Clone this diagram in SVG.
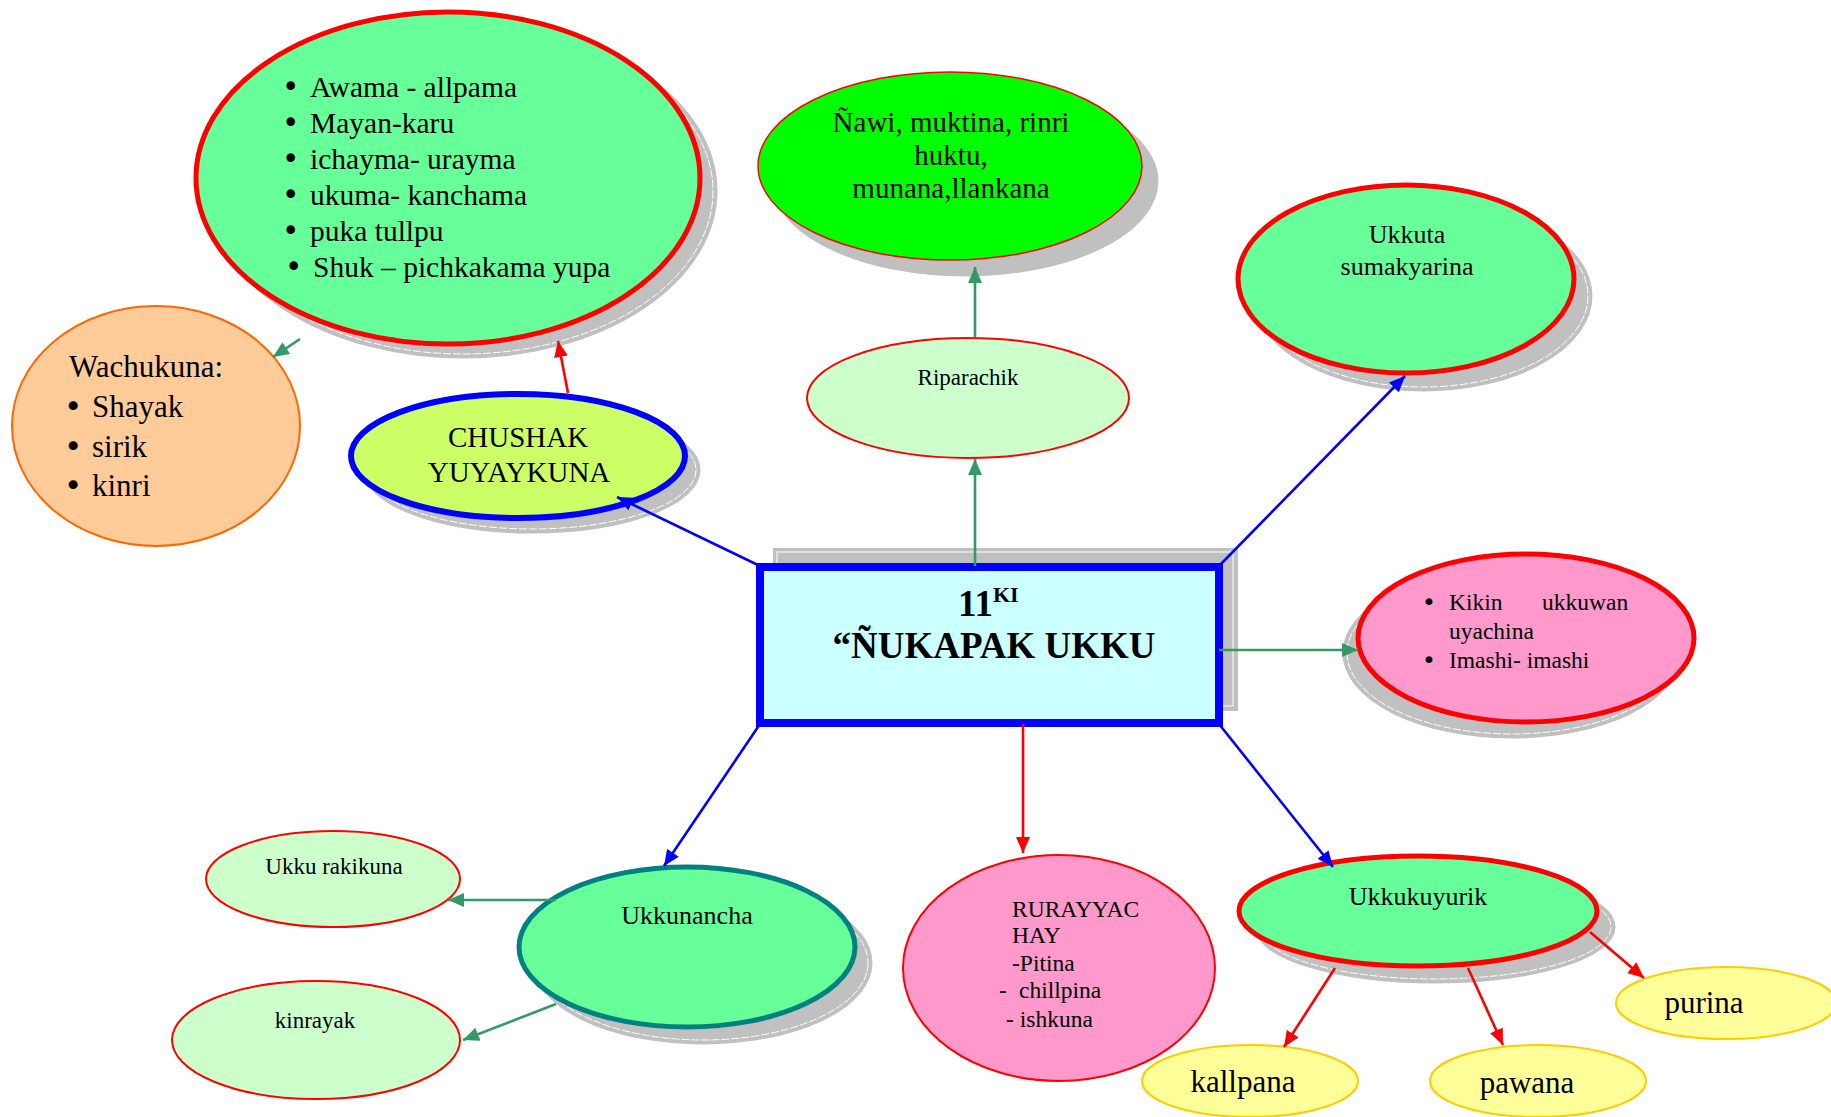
<svg xmlns="http://www.w3.org/2000/svg" width="1831" height="1117" viewBox="0 0 1831 1117">
<defs>
<style>
text{font-family:"Liberation Serif","Times New Roman",serif;fill:#000}
.sh{fill:#c0c0c0;stroke:#c0c0c0;stroke-width:3}
.shl{fill:none;stroke:#fff;stroke-width:1;stroke-dasharray:8 2}
.c{stroke-width:2.6;fill:none}
.g{stroke:#339966}
.r{stroke:#ff0000}
.b{stroke:#0000ff}
text.bl{font-family:"DejaVu Sans",sans-serif}
</style>
<marker id="ag" markerUnits="userSpaceOnUse" markerWidth="16" markerHeight="14" refX="16" refY="7" orient="auto"><path d="M0,0 L16,7 L0,14 z" fill="#339966"/></marker>
<marker id="ar" markerUnits="userSpaceOnUse" markerWidth="16" markerHeight="14" refX="16" refY="7" orient="auto"><path d="M0,0 L16,7 L0,14 z" fill="#ff0000"/></marker>
<marker id="ab" markerUnits="userSpaceOnUse" markerWidth="16" markerHeight="14" refX="16" refY="7" orient="auto"><path d="M0,0 L16,7 L0,14 z" fill="#0000ff"/></marker>
</defs>
<rect width="1831" height="1117" fill="#fff"/>

<g id="node-awama">
<ellipse class="sh" cx="463" cy="191" rx="253" ry="166"/>
<ellipse class="shl" cx="463" cy="191" rx="250" ry="163"/>
<ellipse cx="448" cy="178" rx="252" ry="166" fill="#66ff99" stroke="#ff0000" stroke-width="5"/>
<g font-size="29.5">
<text x="282" y="97" class="bl">•</text><text x="310" y="97">Awama - allpama</text>
<text x="282" y="133" class="bl">•</text><text x="310" y="133">Mayan-karu</text>
<text x="282" y="169" class="bl">•</text><text x="310" y="169">ichayma- urayma</text>
<text x="282" y="205" class="bl">•</text><text x="310" y="205">ukuma- kanchama</text>
<text x="282" y="241" class="bl">•</text><text x="310" y="241">puka tullpu</text>
<text x="285" y="277" class="bl">•</text><text x="313" y="277">Shuk – pichkakama yupa</text>
</g>
</g>

<g id="node-nawi">
<ellipse class="sh" cx="965" cy="181" rx="192" ry="94"/>
<ellipse cx="950" cy="166" rx="192" ry="94" fill="#00ff00" stroke="#ff0000" stroke-width="1.5"/>
<g font-size="29">
<text x="951" y="132" text-anchor="middle">Ñawi, muktina, rinri</text>
<text x="951" y="165" text-anchor="middle">huktu,</text>
<text x="951" y="198" text-anchor="middle">munana,llankana</text>
</g>
</g>

<g id="node-riparachik">
<ellipse cx="968" cy="398" rx="161" ry="60" fill="#ccffcc" stroke="#ff0000" stroke-width="2"/>
<text x="968" y="385" font-size="23" text-anchor="middle">Riparachik</text>
</g>

<g id="node-ukkuta">
<ellipse class="sh" cx="1423" cy="296" rx="168" ry="94"/>
<ellipse class="shl" cx="1423" cy="296" rx="165" ry="91"/>
<ellipse cx="1406" cy="279" rx="168" ry="94" fill="#66ff99" stroke="#ff0000" stroke-width="5"/>
<text x="1407" y="243" font-size="26" text-anchor="middle">Ukkuta</text>
<text x="1407" y="275" font-size="26" text-anchor="middle">sumakyarina</text>
</g>

<g id="node-wachukuna">
<ellipse cx="156" cy="426" rx="144" ry="120" fill="#ffcc99" stroke="#ff6600" stroke-width="2"/>
<g font-size="31">
<text x="69" y="377">Wachukuna:</text>
<text x="64" y="417" class="bl">•</text><text x="92" y="417">Shayak</text>
<text x="64" y="457" class="bl">•</text><text x="92" y="457">sirik</text>
<text x="64" y="496" class="bl">•</text><text x="92" y="496">kinri</text>
</g>
</g>

<g id="node-chushak">
<ellipse class="sh" cx="532" cy="470" rx="167" ry="62"/>
<ellipse class="shl" cx="532" cy="470" rx="164" ry="59"/>
<ellipse cx="518" cy="456" rx="167" ry="62" fill="#ccff66" stroke="#0000ff" stroke-width="6"/>
<text x="518" y="447" font-size="29" text-anchor="middle">CHUSHAK</text>
<text x="519" y="482" font-size="29" text-anchor="middle">YUYAYKUNA</text>
</g>

<g id="node-center">
<rect x="773" y="548" width="465" height="163" fill="#c0c0c0"/>
<rect x="777" y="552" width="456" height="154" fill="none" stroke="#fff" stroke-width="1"/>
<rect x="760" y="567" width="459" height="156" fill="#ccffff" stroke="#0000ff" stroke-width="8"/>
<text x="958" y="616" font-size="37" font-weight="bold">11<tspan font-size="22" dy="-14">KI</tspan></text>
<text x="994" y="658" font-size="37" font-weight="bold" text-anchor="middle">“ÑUKAPAK UKKU</text>
</g>

<g id="node-kikin">
<ellipse class="sh" cx="1512" cy="653" rx="168" ry="84"/>
<ellipse class="shl" cx="1512" cy="653" rx="165" ry="81"/>
<ellipse cx="1526" cy="638" rx="168" ry="84" fill="#ff99cc" stroke="#ff0000" stroke-width="5"/>
<g font-size="23.5">
<text x="1422" y="610" class="bl">•</text>
<text y="610"><tspan x="1449">Kikin</tspan><tspan x="1542">ukkuwan</tspan></text>
<text x="1449" y="639">uyachina</text>
<text x="1422" y="668" class="bl">•</text><text x="1449" y="668">Imashi- imashi</text>
</g>
</g>

<g id="node-ukkunancha">
<ellipse class="sh" cx="703" cy="963" rx="168" ry="80"/>
<ellipse class="shl" cx="703" cy="963" rx="165" ry="77"/>
<ellipse cx="687" cy="947" rx="168" ry="80" fill="#66ff99" stroke="#008080" stroke-width="5"/>
<text x="687" y="924" font-size="26" text-anchor="middle">Ukkunancha</text>
</g>

<g id="node-ukkurakikuna">
<ellipse cx="333" cy="879" rx="127" ry="48" fill="#ccffcc" stroke="#ff0000" stroke-width="2"/>
<text x="334" y="874" font-size="23" text-anchor="middle">Ukku rakikuna</text>
</g>

<g id="node-kinrayak">
<ellipse cx="316" cy="1040" rx="144" ry="59" fill="#ccffcc" stroke="#ff0000" stroke-width="2"/>
<text x="315" y="1028" font-size="23" text-anchor="middle">kinrayak</text>
</g>

<g id="node-rurayyachay">
<ellipse cx="1059" cy="968" rx="156" ry="113" fill="#ff99cc" stroke="#ff0000" stroke-width="2"/>
<g font-size="23.5">
<text x="1012" y="917">RURAYYAC</text>
<text x="1012" y="943">HAY</text>
<text x="1012" y="971">-Pitina</text>
<text y="998"><tspan x="999">-</tspan><tspan x="1019">chillpina</tspan></text>
<text x="1006" y="1027">- ishkuna</text>
</g>
</g>

<g id="node-ukkukuyurik">
<ellipse class="sh" cx="1435" cy="927" rx="179" ry="55"/>
<ellipse class="shl" cx="1435" cy="927" rx="176" ry="52"/>
<ellipse cx="1418" cy="911" rx="179" ry="55" fill="#66ff99" stroke="#ff0000" stroke-width="5"/>
<text x="1418" y="905" font-size="26" text-anchor="middle">Ukkukuyurik</text>
</g>

<g id="node-kallpana">
<ellipse cx="1250" cy="1081" rx="108" ry="36" fill="#ffff99" stroke="#ffcc00" stroke-width="2"/>
<text x="1243" y="1092" font-size="31" text-anchor="middle">kallpana</text>
</g>

<g id="node-pawana">
<ellipse cx="1538" cy="1081" rx="108" ry="36" fill="#ffff99" stroke="#ffcc00" stroke-width="2"/>
<text x="1527" y="1093" font-size="31" text-anchor="middle">pawana</text>
</g>

<g id="node-purina">
<ellipse cx="1726" cy="1003" rx="110" ry="36" fill="#ffff99" stroke="#ffcc00" stroke-width="2"/>
<text x="1704" y="1013" font-size="31" text-anchor="middle">purina</text>
</g>

<g id="connectors">
<line class="c g" x1="975" y1="566" x2="975" y2="459" marker-end="url(#ag)"/>
<line class="c g" x1="975" y1="337" x2="975" y2="267" marker-end="url(#ag)"/>
<line class="c b" x1="1219" y1="566" x2="1405" y2="376" marker-end="url(#ab)"/>
<line class="c b" x1="760" y1="566" x2="617" y2="497" marker-end="url(#ab)"/>
<line class="c r" x1="568" y1="393" x2="558" y2="341" marker-end="url(#ar)"/>
<line class="c g" x1="300" y1="339" x2="273" y2="357" marker-end="url(#ag)"/>
<line class="c g" x1="1219" y1="650" x2="1358" y2="650" marker-end="url(#ag)"/>
<line class="c b" x1="760" y1="724" x2="664" y2="866" marker-end="url(#ab)"/>
<line class="c r" x1="1023" y1="724" x2="1023" y2="853" marker-end="url(#ar)"/>
<line class="c b" x1="1219" y1="724" x2="1333" y2="867" marker-end="url(#ab)"/>
<line class="c g" x1="556" y1="900" x2="448" y2="900" marker-end="url(#ag)"/>
<line class="c g" x1="556" y1="1004" x2="463" y2="1040" marker-end="url(#ag)"/>
<line class="c r" x1="1335" y1="968" x2="1284" y2="1047" marker-end="url(#ar)"/>
<line class="c r" x1="1468" y1="968" x2="1503" y2="1045" marker-end="url(#ar)"/>
<line class="c r" x1="1590" y1="932" x2="1644" y2="978" marker-end="url(#ar)"/>
</g>
</svg>
